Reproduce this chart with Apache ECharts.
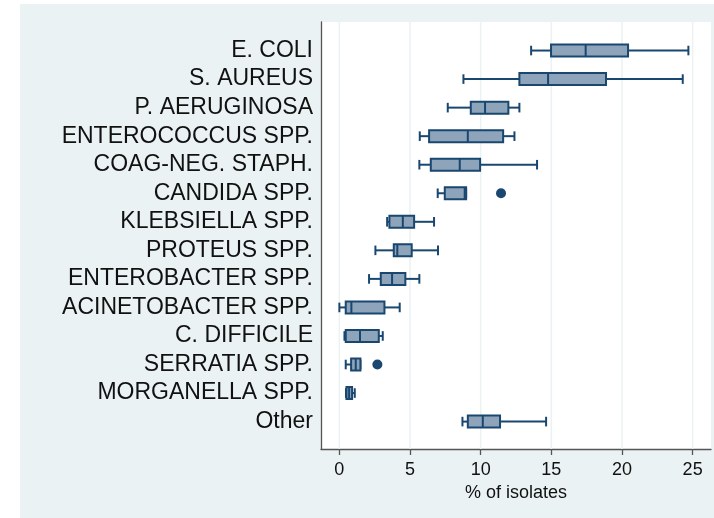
<!DOCTYPE html>
<html>
<head>
<meta charset="utf-8">
<script src="https://cdn.jsdelivr.net/npm/echarts@6/dist/echarts.min.js"></script>
<style>
  body { margin: 0; background: #fff; }
  #main { width: 714px; height: 518px; }
</style>
</head>
<body>
<div id="main"></div>
<script>
// categories, top to bottom
var categories = ['E. COLI', 'S. AUREUS', 'P. AERUGINOSA', 'ENTEROCOCCUS SPP.', 'COAG-NEG. STAPH.',
  'CANDIDA SPP.', 'KLEBSIELLA SPP.', 'PROTEUS SPP.', 'ENTEROBACTER SPP.', 'ACINETOBACTER SPP.',
  'C. DIFFICILE', 'SERRATIA SPP.', 'MORGANELLA SPP.', 'Other'];

// box statistics (% of isolates)
var lowWhisker = [13.57, 8.78, 7.67, 5.69, 5.66, 6.96, 3.38, 2.55, 2.10, 0.00, 0.36, 0.45, 0.47, 8.71];
var q1 = [14.98, 12.74, 9.30, 6.35, 6.47, 7.46, 3.54, 3.85, 2.93, 0.45, 0.45, 0.83, 0.50, 9.09];
var median = [17.43, 14.77, 10.31, 9.09, 8.52, 8.87, 4.49, 4.10, 3.73, 0.85, 1.46, 1.16, 0.69, 10.15];
var q3 = [20.43, 18.87, 11.96, 11.59, 9.96, 8.97, 5.29, 5.12, 4.67, 3.19, 2.79, 1.49, 0.90, 11.37];
var highWhisker = [24.70, 24.30, 12.74, 12.39, 13.99, 8.97, 6.70, 6.98, 5.66, 4.27, 3.07, 1.49, 1.09, 14.63];

// outliers: [value, category index]
var outliers = [[11.44, 5], [2.69, 11]];

// x axis ticks
var xTicks = [0, 5, 10, 15, 20, 25];

var navy = '#1A476F';
var boxFill = '#8EA4BA';
var bgColor = '#EAF2F3';
var yMax = 14.96;

var chart = echarts.init(document.getElementById('main'));

var boxData = categories.map(function (c, i) {
  return [i + 1, lowWhisker[i], q1[i], median[i], q3[i], highWhisker[i]];
});
var outlierData = outliers.map(function (o) { return [o[0], o[1] + 1]; });
var gridData = xTicks.map(function (v) { return [v, 0]; });

var option = {
  backgroundColor: '#ffffff',
  animation: false,
  textStyle: { fontFamily: 'Liberation Sans, Arial, sans-serif' },
  graphic: [{
    type: 'rect', z: -10, silent: true,
    shape: { x: 20, y: 4, width: 694, height: 514 },
    style: { fill: bgColor }
  }],
  grid: {
    left: 321, right: 3, top: 22, bottom: 69,
    show: true, backgroundColor: '#ffffff', borderWidth: 0
  },
  xAxis: {
    type: 'value', min: -1.3, max: 26.3,
    name: '% of isolates', nameLocation: 'middle', nameGap: 27,
    nameTextStyle: { fontSize: 18, color: '#111' },
    axisLine: { show: true, onZero: false, lineStyle: { color: '#555', width: 1.3 } },
    axisTick: { show: true, length: 6, customValues: xTicks, lineStyle: { color: '#555', width: 1.3 } },
    axisLabel: { customValues: xTicks, fontSize: 18, color: '#111', margin: 12 },
    splitLine: { show: false }
  },
  yAxis: {
    type: 'value', min: 0, max: yMax, inverse: true,
    axisLine: { show: true, onZero: false, lineStyle: { color: '#555', width: 1.3 } },
    axisTick: { show: false },
    splitLine: { show: false },
    axisLabel: {
      customValues: categories.map(function (c, i) { return i + 1; }),
      fontSize: 23, color: '#111', margin: 8,
      formatter: function (v) { return categories[Math.round(v) - 1] || ''; }
    }
  },
  series: [
    {
      // vertical grid lines
      type: 'custom', silent: true, z: 1,
      data: gridData,
      encode: { x: 0, y: 1 },
      renderItem: function (params, api) {
        var v = api.value(0);
        var p0 = api.coord([v, 0]);
        var p1 = api.coord([v, yMax]);
        return {
          type: 'line',
          shape: { x1: p0[0], y1: p0[1], x2: p1[0], y2: p1[1] },
          style: { stroke: bgColor, lineWidth: 1.5 }
        };
      }
    },
    {
      type: 'custom', silent: true, z: 3,
      data: boxData,
      encode: { x: [1, 2, 3, 4, 5], y: 0 },
      renderItem: function (params, api) {
        var row = api.value(0);
        var lo = api.coord([api.value(1), row]);
        var b1 = api.coord([api.value(2), row]);
        var md = api.coord([api.value(3), row]);
        var b3 = api.coord([api.value(4), row]);
        var hi = api.coord([api.value(5), row]);
        var y = lo[1];
        var bh = 6, ch = 4.8;
        var ln = { stroke: navy, lineWidth: 2 };
        return {
          type: 'group',
          children: [
            { type: 'line', shape: { x1: lo[0], y1: y, x2: b1[0], y2: y }, style: ln },
            { type: 'line', shape: { x1: b3[0], y1: y, x2: hi[0], y2: y }, style: ln },
            { type: 'line', shape: { x1: lo[0], y1: y - ch, x2: lo[0], y2: y + ch }, style: ln },
            { type: 'line', shape: { x1: hi[0], y1: y - ch, x2: hi[0], y2: y + ch }, style: ln },
            { type: 'rect', shape: { x: b1[0], y: y - bh, width: b3[0] - b1[0], height: bh * 2 },
              style: { fill: boxFill, stroke: navy, lineWidth: 2 } },
            { type: 'line', shape: { x1: md[0], y1: y - bh, x2: md[0], y2: y + bh },
              style: { stroke: navy, lineWidth: 2 } }
          ]
        };
      }
    },
    {
      type: 'scatter', silent: true, z: 4,
      data: outlierData,
      symbol: 'circle', symbolSize: 10,
      itemStyle: { color: navy, opacity: 1 }
    }
  ]
};

chart.setOption(option);
</script>
</body>
</html>
